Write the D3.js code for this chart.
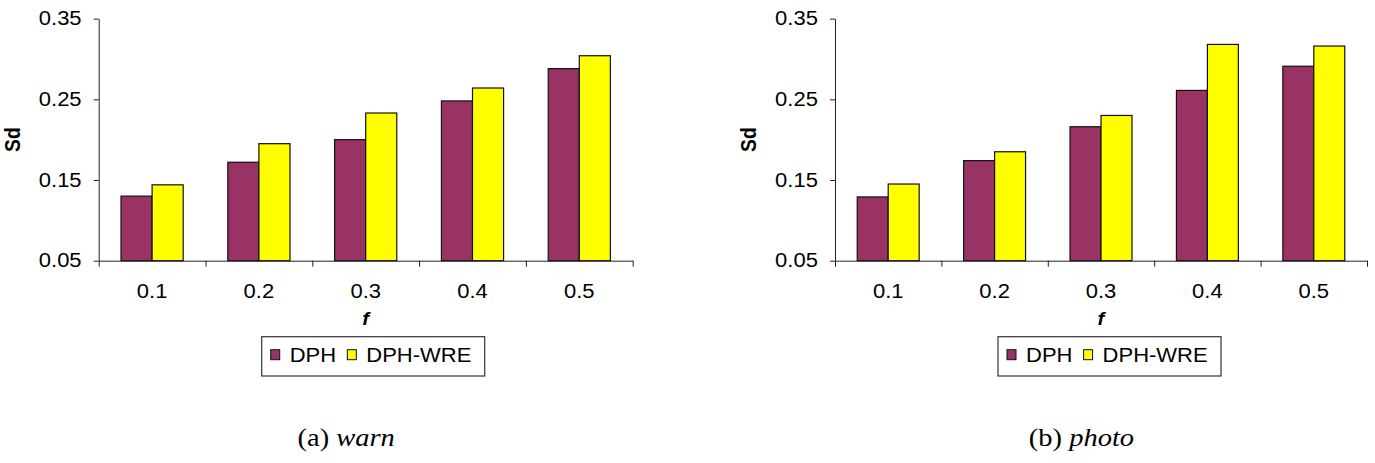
<!DOCTYPE html>
<html>
<head>
<meta charset="utf-8">
<script src="https://cdn.jsdelivr.net/npm/d3@7"></script>
<style>
  body { margin: 0; background: #fff; }
  svg { display: block; }
  text { font-family: "Liberation Sans", Arial, sans-serif; fill: #000; }
  .caption { font-family: "Liberation Serif", "Times New Roman", serif; }
  .domain, .tick line { stroke: #222; }
</style>
</head>
<body>
<svg id="fig" width="1375" height="463"></svg>
<script>
(() => { // IIFE

    // data
    const fValues = ["0.1", "0.2", "0.3", "0.4", "0.5"];
    const seriesNames = ["DPH", "DPH-WRE"];
    const seriesColors = ["#993366", "#ffff00"];
    const yTicks = [0.05, 0.15, 0.25, 0.35];

    const warnDPH = [0.130, 0.172, 0.200, 0.248, 0.288];
    const warnWRE = [0.144, 0.195, 0.233, 0.264, 0.304];
    const photoDPH = [0.129, 0.174, 0.216, 0.261, 0.291];
    const photoWRE = [0.145, 0.185, 0.230, 0.318, 0.316];

    const svg = d3.select("svg#fig");
    const sx = 1.14; // the source figure is stretched sideways a bit
    const fontSize = 19.3;

    const top = 18.6;
    const bottom = 260.7;

    function drawPanel(left, width, dph, wre, capLabel, capWord) {
        const g = svg.append("g")
            .attr("transform", `translate(${left}, 0)`);

        const yScale = d3.scaleLinear()
            .domain([0.05, 0.35])
            .range([bottom, top]);

        const x0 = d3.scaleBand()
            .domain(fValues)
            .range([0, width])
            .paddingInner(0.418)
            .paddingOuter(0.209);

        const x1 = d3.scaleBand()
            .domain(seriesNames)
            .range([0, x0.bandwidth()]);

        const color = d3.scaleOrdinal()
            .domain(seriesNames)
            .range(seriesColors);

        const rows = fValues.map((f, i) => ({f: f, vals: [dph[i], wre[i]]}));

        // bars
        g.append("g")
            .selectAll("g")
            .data(rows)
            .enter().append("g")
            .attr("transform", d => `translate(${x0(d.f)}, 0)`)
            .selectAll("rect")
            .data(d => d.vals.map((v, k) => ({name: seriesNames[k], value: v})))
            .enter().append("rect")
            .attr("x", d => x1(d.name))
            .attr("y", d => yScale(d.value))
            .attr("width", x1.bandwidth())
            .attr("height", d => bottom - yScale(d.value))
            .attr("fill", d => color(d.name))
            .attr("stroke", "#111")
            .attr("stroke-width", 1.2);

        // y axis
        const yAxis = g.append("g")
            .call(d3.axisLeft(yScale)
                .tickValues(yTicks)
                .tickFormat(d3.format(".2f"))
                .tickSize(5)
                .tickSizeOuter(0)
                .tickPadding(10));
        yAxis.selectAll(".tick text")
            .attr("transform", `scale(${sx},1)`)
            .style("font-size", fontSize + "px");

        // x axis: boundary ticks + category labels
        const edge = d3.scaleLinear()
            .domain([0, fValues.length])
            .range([0, width]);
        g.append("g")
            .attr("transform", `translate(0, ${bottom})`)
            .call(d3.axisBottom(edge)
                .tickValues(d3.range(fValues.length + 1))
                .tickFormat("")
                .tickSize(6)
                .tickSizeOuter(0));

        const xAxis = g.append("g")
            .attr("transform", `translate(0, ${bottom})`)
            .call(d3.axisBottom(x0).tickSize(0).tickPadding(24));
        xAxis.select(".domain").remove();
        xAxis.selectAll(".tick text")
            .attr("transform", `scale(${sx},1)`)
            .style("font-size", fontSize + "px");

        // axis titles
        g.append("text")
            .attr("transform", `translate(${width / 2}, 325) scale(${sx},1)`)
            .attr("text-anchor", "middle")
            .style("font-size", "18px")
            .style("font-weight", "bold")
            .style("font-style", "italic")
            .text("f");

        g.append("text")
            .attr("transform", `translate(-79, ${(top + bottom) / 2}) scale(${sx},1) rotate(-90)`)
            .attr("text-anchor", "middle")
            .style("font-size", fontSize + "px")
            .style("font-weight", "bold")
            .text("Sd");

        // legend
        const lg = g.append("g")
            .attr("transform", `translate(163, 336.7)`);
        lg.append("rect")
            .attr("width", 223)
            .attr("height", 39.3)
            .attr("fill", "#fff")
            .attr("stroke", "#333")
            .attr("stroke-width", 1.2);
        const itemX = [9, 85.6];
        seriesNames.forEach((name, k) => {
            lg.append("rect")
                .attr("x", itemX[k])
                .attr("y", 13)
                .attr("width", 9)
                .attr("height", 10)
                .attr("fill", color(name))
                .attr("stroke", "#111");
            lg.append("text")
                .attr("transform", `translate(${itemX[k] + 19}, 25) scale(${sx},1)`)
                .style("font-size", fontSize + "px")
                .text(name);
        });

        // caption
        const cap = g.append("text")
            .attr("class", "caption")
            .attr("transform", `translate(${width / 2 - 19.5}, 446) scale(${sx},1)`)
            .attr("text-anchor", "middle")
            .style("font-size", "25px");
        cap.append("tspan").text(capLabel + " ");
        cap.append("tspan").style("font-style", "italic").text(capWord);
    }

    drawPanel(98.7, 534, warnDPH, warnWRE, "(a)", "warn");
    drawPanel(835, 532, photoDPH, photoWRE, "(b)", "photo");

})();
</script>
</body>
</html>
